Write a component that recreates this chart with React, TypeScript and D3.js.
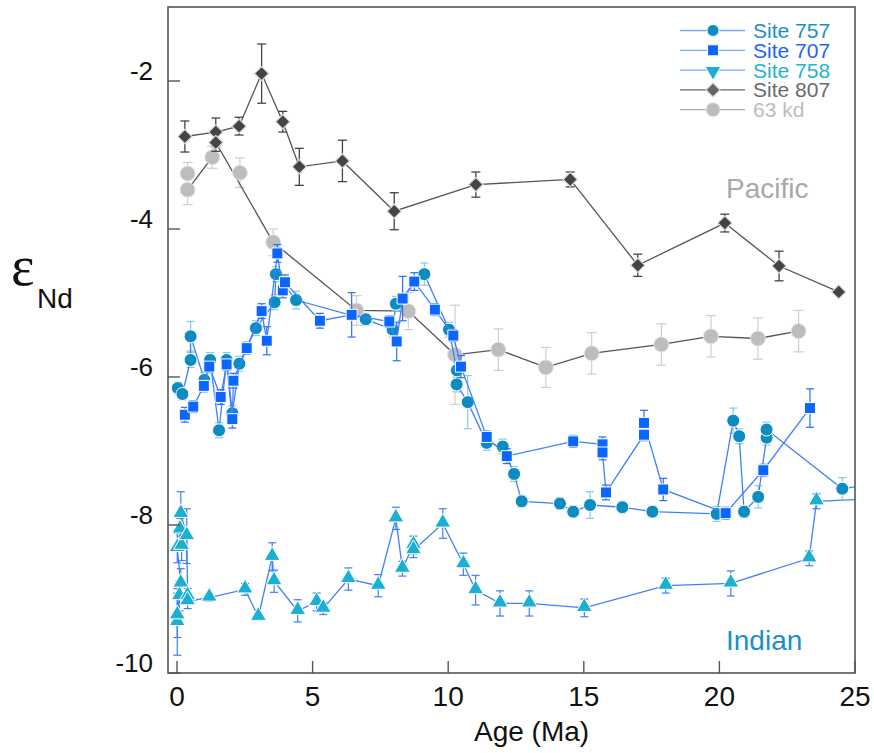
import React from 'react';
import * as d3 from 'd3';

// ---------- data ----------
const ages757 = [0.03, 0.20, 0.50, 0.50, 1.01, 1.22, 1.55, 1.83, 2.04, 2.30, 2.91, 3.60, 3.65, 4.39, 6.96, 7.95, 8.07, 9.12, 10.03, 10.32, 10.31, 10.72, 11.42, 12.01, 12.43, 12.71, 14.12, 14.61, 15.23, 16.42, 17.53, 19.90, 20.51, 20.73, 20.91, 21.43, 21.74, 21.74, 24.53, 25.6];
const vals757 = [-6.15, -6.23, -5.77, -5.45, -6.04, -5.77, -6.72, -5.77, -6.49, -5.82, -5.34, -4.99, -4.61, -4.96, -5.22, -5.36, -5.01, -4.61, -5.36, -5.91, -6.10, -6.34, -6.89, -6.94, -7.31, -7.68, -7.71, -7.82, -7.73, -7.76, -7.82, -7.85, -6.59, -6.80, -7.82, -7.62, -6.82, -6.71, -7.51, -7.45];
const errs757 = [0.08, 0.08, 0.1, 0.2, 0.1, 0.1, 0.1, 0.1, 0.1, 0.1, 0.1, 0.1, 0.1, 0.12, 0.08, 0.1, 0.1, 0.15, 0.1, 0.1, 0.1, 0.36, 0.1, 0.1, 0.1, 0.08, 0.08, 0.08, 0.18, 0.08, 0.08, 0.1, 0.17, 0.1, 0.08, 0.15, 0.1, 0.1, 0.15, 0.1];

const ages707 = [0.29, 0.60, 0.99, 1.19, 1.61, 1.83, 2.04, 2.08, 2.57, 3.12, 3.31, 3.70, 3.90, 3.98, 5.27, 6.44, 7.83, 8.10, 8.32, 8.75, 9.51, 10.19, 10.47, 11.42, 12.16, 14.61, 15.69, 15.69, 15.82, 17.22, 17.22, 17.93, 20.23, 21.62, 23.34];
const vals707 = [-6.51, -6.40, -6.12, -5.86, -6.27, -5.83, -6.57, -6.05, -5.61, -5.11, -5.51, -4.33, -4.83, -4.72, -5.24, -5.16, -5.25, -5.52, -4.94, -4.71, -5.09, -5.44, -5.86, -6.81, -7.07, -6.87, -6.91, -7.02, -7.56, -6.78, -6.62, -7.52, -7.84, -7.26, -6.42];
const errs707 = [0.1, 0.08, 0.08, 0.08, 0.1, 0.08, 0.12, 0.1, 0.08, 0.1, 0.19, 0.12, 0.1, 0.1, 0.1, 0.3, 0.08, 0.26, 0.3, 0.12, 0.08, 0.08, 0.15, 0.08, 0.1, 0.08, 0.1, 0.1, 0.1, 0.08, 0.17, 0.15, 0.08, 0.08, 0.26];

const ages758 = [0.01, 0.01, 0.09, 0.14, 0.01, 0.17, 0.11, 0.14, 0.36, 0.39, 0.39, 1.19, 2.51, 3.0, 3.51, 3.58, 4.45, 5.15, 5.39, 6.32, 7.42, 8.07, 8.31, 8.72, 8.72, 9.80, 10.56, 11.01, 11.91, 12.99, 15.02, 18.02, 20.42, 23.31, 23.58, 26.0];
const vals758 = [-9.31, -9.22, -8.96, -8.79, -8.31, -8.28, -8.06, -7.85, -8.15, -8.96, -9.03, -8.98, -8.87, -9.24, -8.43, -8.76, -9.16, -9.04, -9.13, -8.73, -8.82, -7.91, -8.59, -8.27, -8.34, -7.98, -8.53, -8.88, -9.06, -9.06, -9.12, -8.82, -8.79, -8.45, -7.68, -7.64];
const errs758 = [0.45, 0.3, 0.2, 0.2, 0.2, 0.2, 0.15, 0.3, 0.37, 0.1, 0.1, 0.05, 0.08, 0.05, 0.19, 0.15, 0.15, 0.12, 0.08, 0.15, 0.15, 0.15, 0.1, 0.12, 0.1, 0.2, 0.15, 0.2, 0.17, 0.17, 0.12, 0.1, 0.17, 0.1, 0.1, 0];

const ages807 = [0.29, 1.43, 2.29, 3.12, 3.90, 4.51, 6.10, 8.01, 11.02, 14.5, 16.99, 20.2, 22.2, 24.4];
const vals807 = [-2.75, -2.69, -2.61, -1.90, -2.55, -3.16, -3.08, -3.76, -3.40, -3.33, -4.49, -3.92, -4.50, -4.85];
const errs807 = [0.21, 0.19, 0.12, 0.40, 0.14, 0.25, 0.28, 0.25, 0.17, 0.10, 0.15, 0.12, 0.20, 0];
// second Site 807 value at 1.43 Ma (start of the 63 kd connection)
const ages807b = [1.43];
const vals807b = [-2.83];
const errs807b = [0.12];

const ages63 = [0.39, 1.30, 3.55, 6.62, 8.53, 10.25, 11.85, 13.6, 15.29, 17.86, 19.69, 21.42, 22.92];
const vals63 = [-3.47, -3.03, -4.18, -5.10, -5.11, -5.70, -5.63, -5.87, -5.68, -5.56, -5.45, -5.48, -5.38];
const errs63 = [0.2, 0.15, 0.18, 0.2, 0.25, 0.67, 0.28, 0.27, 0.28, 0.28, 0.28, 0.28, 0.28];
const ages63b = [0.39, 2.32];
const vals63b = [-3.25, -3.24];
const errs63b = [0.15, 0.2];

const xTicks = [0, 5, 10, 15, 20, 25];
const yTicks = [-2, -4, -6, -8, -10];
const legendLabels = ['Site 757', 'Site 707', 'Site 758', 'Site 807', '63 kd'];

type P = { a: number; v: number; e: number };
const zip = (a: number[], v: number[], e: number[]): P[] => a.map((d, i) => ({ a: d, v: v[i], e: e[i] }));

const FONT = 'Liberation Sans, Arial, Helvetica, sans-serif';

export default function App() {
  const W = 874, H = 753;
  const L = 168, R = 855, T = 7, B = 673;
  const x = d3.scaleLinear().domain([0, 25]).range([177, 855]);
  const y = d3.scaleLinear().domain([-10, -2]).range([673, 81]);
  const line = d3.line<P>().x(d => x(d.a)).y(d => y(d.v));

  const s757 = zip(ages757, vals757, errs757);
  const s707 = zip(ages707, vals707, errs707);
  const s758 = zip(ages758, vals758, errs758);
  const s807 = zip(ages807, vals807, errs807);
  const s807b = zip(ages807b, vals807b, errs807b);
  const s63 = zip(ages63, vals63, errs63);
  const s63b = zip(ages63b, vals63b, errs63b);
  const s63line = [s63[0], s63[1], s807b[0], ...s63.slice(2)];

  const sq = d3.symbol().type(d3.symbolSquare).size(121)() as string;
  const dia = d3.symbol().type(d3.symbolSquare).size(100)() as string;
  const triUp = d3.symbol().type(d3.symbolTriangle).size(110)() as string;

  const errBars = (pts: P[], color: string, cap: number, key: string, w = 1.2) =>
    pts.filter(p => p.e > 0).map((p, i) => {
      const cx = x(p.a), y1 = y(p.v + p.e), y2 = y(p.v - p.e);
      return (
        <g key={key + i} stroke={color} strokeWidth={w} fill="none">
          <line x1={cx} x2={cx} y1={y1} y2={y2} />
          <line x1={cx - cap} x2={cx + cap} y1={y1} y2={y1} />
          <line x1={cx - cap} x2={cx + cap} y1={y2} y2={y2} />
        </g>
      );
    });

  const blueLine = '#3f80ff';
  const legendColors = ['#1a8fc6', '#1f62ff', '#22b3d4', '#6a6a6a', '#bdbdbd'];
  const legendLine = ['#7aa8ff', '#7aa8ff', '#7aa8ff', '#666', '#aaa'];

  return (
    <svg width={W} height={H} style={{ position: 'absolute', left: 0, top: 0, background: '#fff' }} fontFamily={FONT}>
      <defs>
        <clipPath id="plotclip">
          <rect x={L} y={T} width={R - L} height={B - T} />
        </clipPath>
      </defs>

      <g clipPath="url(#plotclip)">
        {/* 63 kd */}
        {errBars([...s63, ...s63b], '#cfcfcf', 5, 'e63', 1.2)}
        <path d={line(s63line) as string} fill="none" stroke="#555" strokeWidth={1.3} />
        {[...s63, ...s63b].map((p, i) => (
          <circle key={'c63' + i} cx={x(p.a)} cy={y(p.v)} r={7.5} fill="#bdbdbd" stroke="#e6e6e6" strokeWidth={1} />
        ))}

        {/* Site 807 */}
        {errBars([...s807, ...s807b], '#444', 4.5, 'e807', 1.3)}
        <path d={line(s807) as string} fill="none" stroke="#555" strokeWidth={1.3} />
        {[...s807, ...s807b].map((p, i) => (
          <path key={'d807' + i} d={dia} transform={`translate(${x(p.a)},${y(p.v)}) rotate(45)`} fill="#444" stroke="#d8d8d8" strokeWidth={1.2} />
        ))}

        {/* Site 758 */}
        {errBars(s758, '#3d7fff', 4, 'e758', 1.2)}
        <path d={line(s758) as string} fill="none" stroke={blueLine} strokeWidth={1.3} />
        {s758.map((p, i) => (
          <path key={'t758' + i} d={triUp} transform={`translate(${x(p.a)},${y(p.v) - 1})`} fill="#1ab0d2" stroke="#fff" strokeWidth={1} />
        ))}

        {/* Site 757 */}
        {errBars(s757, '#86c9e8', 4, 'e757', 1.2)}
        <path d={line(s757) as string} fill="none" stroke={blueLine} strokeWidth={1.3} />
        {s757.map((p, i) => (
          <circle key={'c757' + i} cx={x(p.a)} cy={y(p.v)} r={6.5} fill="#0b8dc2" stroke="#fff" strokeWidth={1} />
        ))}

        {/* Site 707 */}
        {errBars(s707, '#2a6dff', 4, 'e707', 1.2)}
        <path d={line(s707) as string} fill="none" stroke={blueLine} strokeWidth={1.3} />
        {s707.map((p, i) => (
          <path key={'s707' + i} d={sq} transform={`translate(${x(p.a)},${y(p.v)})`} fill="#0a66ff" stroke="#fff" strokeWidth={1} />
        ))}
      </g>

      {/* frame */}
      <rect x={L} y={T} width={R - L} height={B - T} fill="none" stroke="#555" strokeWidth={1.6} />

      {/* y ticks */}
      {yTicks.map(t => (
        <g key={'yt' + t}>
          <line x1={L} x2={L + 12} y1={y(t)} y2={y(t)} stroke="#555" strokeWidth={1.4} />
          <text x={153} y={y(t) - 1} textAnchor="end" fontSize={26} fill="#111">{t}</text>
        </g>
      ))}
      {/* x ticks */}
      {xTicks.map(t => (
        <g key={'xt' + t}>
          <line x1={x(t)} x2={x(t)} y1={B} y2={B - 12} stroke="#555" strokeWidth={1.4} />
          <text x={x(t)} y={706} textAnchor="middle" fontSize={28} fill="#111">{t}</text>
        </g>
      ))}

      <text x={474} y={741} fontSize={28} fill="#111">Age (Ma)</text>

      {/* y axis label */}
      <text x={11} y={285} fontSize={56} fontFamily="Liberation Serif, DejaVu Serif, serif" fill="#111">ε</text>
      <text x={37} y={308} fontSize={28} fill="#111">Nd</text>

      {/* region labels */}
      <text x={726} y={198} fontSize={28} fill="#a9a9a9">Pacific</text>
      <text x={726} y={650} fontSize={28} fill="#1a8fc8">Indian</text>

      {/* legend */}
      {legendLabels.map((lab, i) => {
        const cy = 30.5 + i * 19.8;
        const mx = 713;
        let marker: React.ReactNode = null;
        if (i === 0) marker = <circle cx={mx} cy={cy} r={6} fill="#0b8dc2" stroke="#fff" strokeWidth={1} />;
        if (i === 1) marker = <path d={sq} transform={`translate(${mx},${cy})`} fill="#0a66ff" stroke="#fff" strokeWidth={1} />;
        if (i === 2) marker = <path d={triUp} transform={`translate(${mx},${cy + 1}) rotate(180)`} fill="#1ab0d2" stroke="#fff" strokeWidth={1} />;
        if (i === 3) marker = <path d={dia} transform={`translate(${mx},${cy}) rotate(45)`} fill="#666" stroke="#d8d8d8" strokeWidth={1.2} />;
        if (i === 4) marker = <circle cx={mx} cy={cy} r={7} fill="#bdbdbd" stroke="#e6e6e6" strokeWidth={1} />;
        return (
          <g key={'lg' + i}>
            <line x1={680} x2={745} y1={cy} y2={cy} stroke={legendLine[i]} strokeWidth={1.3} />
            {marker}
            <text x={753} y={cy + 7.5} fontSize={21} fill={legendColors[i]}>{lab}</text>
          </g>
        );
      })}
    </svg>
  );
}
